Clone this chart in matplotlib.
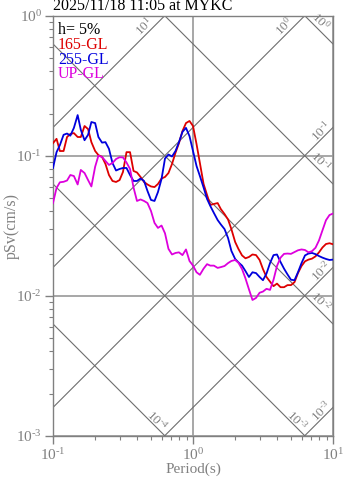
import numpy as np
import matplotlib
matplotlib.use("Agg")
import matplotlib.pyplot as plt
from matplotlib.ticker import LogLocator, FuncFormatter, NullFormatter

plt.rcParams["font.family"] = ["Liberation Serif", "DejaVu Serif"]
plt.rcParams["mathtext.fontset"] = "custom"
plt.rcParams["mathtext.rm"] = "Liberation Serif"
plt.rcParams["mathtext.it"] = "Liberation Serif:italic"
plt.rcParams["mathtext.bf"] = "Liberation Serif:bold"

# Natural period (s)
period = [0.100, 0.106, 0.112, 0.119, 0.126, 0.133, 0.141, 0.150, 0.158, 0.168,
          0.178, 0.188, 0.200, 0.211, 0.224, 0.237, 0.251, 0.266, 0.282, 0.299,
          0.316, 0.335, 0.355, 0.376, 0.398, 0.422, 0.447, 0.473, 0.501, 0.531,
          0.562, 0.596, 0.631, 0.668, 0.708, 0.750, 0.794, 0.841, 0.891, 0.944,
          1.00, 1.06, 1.12, 1.19, 1.26, 1.33, 1.41, 1.50, 1.58, 1.68,
          1.78, 1.88, 2.00, 2.11, 2.24, 2.37, 2.51, 2.66, 2.82, 2.99,
          3.16, 3.35, 3.55, 3.76, 3.98, 4.22, 4.47, 4.73, 5.01, 5.31,
          5.62, 5.96, 6.31, 6.68, 7.08, 7.50, 7.94, 8.41, 8.91, 9.44,
          10.0]

# Pseudo velocity response (cm/s), h = 5%
psv_165 = [0.123, 0.132, 0.108, 0.108, 0.136, 0.143, 0.145, 0.136, 0.136, 0.163,
           0.155, 0.125, 0.108, 0.101, 0.098, 0.0873, 0.0728, 0.0660, 0.0649, 0.0670,
           0.0765, 0.106, 0.106, 0.0778, 0.0759, 0.0705, 0.0649, 0.0623, 0.0603, 0.0597,
           0.0628, 0.0687, 0.0705, 0.0752, 0.0873, 0.105, 0.123, 0.150, 0.171, 0.177,
           0.163, 0.121, 0.0887, 0.0628, 0.0524, 0.0445, 0.0452, 0.0459, 0.0416, 0.0383,
           0.0350, 0.0299, 0.0242, 0.0216, 0.0194, 0.0185, 0.0189, 0.0197, 0.0195, 0.0180,
           0.0155, 0.0136, 0.0126, 0.0117, 0.0122, 0.0115, 0.0115, 0.0119, 0.0119, 0.0125,
           0.0145, 0.0163, 0.0176, 0.0181, 0.0184, 0.0191, 0.0204, 0.0221, 0.0234, 0.0237,
           0.0233]

psv_255 = [0.0817, 0.106, 0.119, 0.141, 0.144, 0.139, 0.158, 0.195, 0.153, 0.129,
           0.141, 0.174, 0.171, 0.136, 0.124, 0.125, 0.112, 0.0887, 0.0784, 0.0804,
           0.0817, 0.0817, 0.0728, 0.0660, 0.0660, 0.0687, 0.0660, 0.0560, 0.0483, 0.0475,
           0.0550, 0.0682, 0.0955, 0.102, 0.0987, 0.108, 0.125, 0.148, 0.158, 0.138,
           0.108, 0.0844, 0.0716, 0.0593, 0.0491, 0.0437, 0.0390, 0.0347, 0.0323, 0.0299,
           0.0258, 0.0209, 0.0183, 0.0173, 0.0164, 0.0150, 0.0136, 0.0147, 0.0145, 0.0136,
           0.0129, 0.0144, 0.0171, 0.0195, 0.0197, 0.0174, 0.0156, 0.0142, 0.0130, 0.0129,
           0.0147, 0.0171, 0.0194, 0.0200, 0.0202, 0.0198, 0.0192, 0.0187, 0.0183, 0.0180,
           0.0181]

psv_up = [0.0459, 0.0588, 0.0646, 0.0651, 0.0665, 0.0728, 0.0716, 0.0623, 0.0791, 0.0752,
          0.0670, 0.0603, 0.0834, 0.100, 0.098, 0.0917, 0.0859, 0.0887, 0.0947, 0.0975,
          0.0972, 0.0894, 0.0804, 0.0593, 0.0475, 0.0487, 0.0475, 0.0459, 0.0403, 0.0331,
          0.0305, 0.0317, 0.0279, 0.0216, 0.0197, 0.0202, 0.0204, 0.0195, 0.0214, 0.0177,
          0.0164, 0.0147, 0.0141, 0.0156, 0.0168, 0.0164, 0.0164, 0.0158, 0.0160, 0.0163,
          0.0171, 0.0177, 0.0180, 0.0172, 0.0155, 0.0133, 0.0111, 0.00932, 0.00964, 0.0105,
          0.0107, 0.0112, 0.0110, 0.0130, 0.0163, 0.0187, 0.0199, 0.0200, 0.0199, 0.0205,
          0.0211, 0.0214, 0.0212, 0.0204, 0.0208, 0.0220, 0.0248, 0.0293, 0.0346, 0.0377,
          0.0386]

series_names = ["165-GL", "255-GL", "UP-GL"]
series_colors = ["#dd0000", "#0000dd", "#dd00dd"]

title_text = "2025/11/18 11:05 at MYKC"
damping_text = "h= 5%"

# Tripartite guide lines
accel_levels = [1e1, 1e0, 1e-1, 1e-2, 1e-3]   # constant acceleration (cm/s^2)
disp_levels = [1e0, 1e-1, 1e-2, 1e-3, 1e-4]   # constant displacement (cm)

T_MIN, T_MAX = 0.1, 10.0
V_MIN, V_MAX = 1e-3, 1.0


def power_label(value):
    """Power of ten with a plain hyphen in the exponent."""
    return r"$10^{\text{%d}}$" % int(round(np.log10(value)))


W, H = 347, 478
fig = plt.figure(figsize=(W / 100, H / 100), dpi=100)
ax = fig.add_axes([53 / W, 42.3 / H, 280 / W, 420 / H])

ax.set_xscale("log")
ax.set_yscale("log")
ax.set_xlim(T_MIN, T_MAX)
ax.set_ylim(V_MIN, V_MAX)

GRAY = "#808080"
DIAG = "#6e6e6e"

ax.grid(True, which="major", color="#a0a0a0", lw=1.3)
ax.set_axisbelow(True)

tt = np.array([T_MIN, T_MAX])
px = 0.72  # points per pixel at 100 dpi

for a in accel_levels:
    ax.plot(tt, a * tt / (2 * np.pi), color=DIAG, lw=0.8, zorder=1)
    t_end = min(T_MAX, 2 * np.pi * V_MAX / a)
    v_end = a * t_end / (2 * np.pi)
    off = (-21, -10.5) if t_end < T_MAX else (-11.5, -4)
    ax.annotate(power_label(a), xy=(t_end, v_end),
                xytext=(off[0] * px, off[1] * px), textcoords="offset points",
                ha="center", va="center", rotation=45, rotation_mode="anchor",
                color=GRAY, fontsize=9.5, annotation_clip=False)

for d in disp_levels:
    ax.plot(tt, 2 * np.pi * d / tt, color=DIAG, lw=0.8, zorder=1)
    v_right = 2 * np.pi * d / T_MAX
    if v_right >= V_MIN:
        t_end, v_end, off = T_MAX, v_right, (-12.5, 22.5)
    else:
        t_end, v_end, off = 2 * np.pi * d / V_MIN, V_MIN, (-7.7, 15.2)
    ax.annotate(power_label(d), xy=(t_end, v_end),
                xytext=(off[0] * px, off[1] * px), textcoords="offset points",
                ha="center", va="center", rotation=-45, rotation_mode="anchor",
                color=GRAY, fontsize=9.5, annotation_clip=False)

for vals, col in zip([psv_165, psv_255, psv_up], series_colors):
    ax.plot(period, vals, color=col, lw=1.3, zorder=3)

for sp in ax.spines.values():
    sp.set_color(GRAY)
    sp.set_linewidth(1.0)

tick_fmt = FuncFormatter(lambda v, pos: power_label(v))
ax.xaxis.set_major_locator(LogLocator(base=10))
ax.yaxis.set_major_locator(LogLocator(base=10))
ax.xaxis.set_minor_locator(LogLocator(base=10, subs=np.arange(2, 10)))
ax.yaxis.set_minor_locator(LogLocator(base=10, subs=np.arange(2, 10)))
ax.xaxis.set_major_formatter(tick_fmt)
ax.yaxis.set_major_formatter(tick_fmt)
ax.xaxis.set_minor_formatter(NullFormatter())
ax.yaxis.set_minor_formatter(NullFormatter())
ax.tick_params(which="major", direction="out", length=6, width=1, color=GRAY,
               labelcolor=GRAY, labelsize=11, pad=2)
ax.tick_params(which="minor", direction="out", length=3, width=0.8, color=GRAY)

ax.set_xlabel("Period(s)", color=GRAY, fontsize=11, va="center")
ax.xaxis.set_label_coords(0.5, (435.7 - 469.5) / 420)
ax.set_ylabel("pSv(cm/s)", color=GRAY, fontsize=11.5, va="center")
ax.yaxis.set_label_coords((12 - 53) / 280, 0.5)

fig.text(53 / W, 1 - 10.5 / H, title_text, ha="left", va="baseline",
         color="black", fontsize=11.5)

fig.text(58 / W, 1 - 30 / H, damping_text, ha="left", va="center",
         color="black", fontsize=11.5)
for i, (name, col) in enumerate(zip(series_names, series_colors)):
    fig.text(58 / W, 1 - (45 + 14.5 * i) / H, name, ha="left", va="center",
             color=col, fontsize=11.5)

fig.savefig("out.png", dpi=100)
